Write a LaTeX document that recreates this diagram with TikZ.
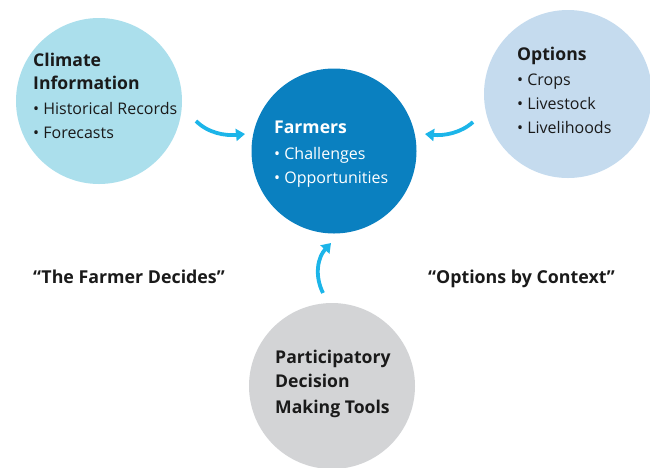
\documentclass[tikz,border=0pt]{standalone}
\usepackage{fontspec}
\setmainfont{Open Sans}
\usetikzlibrary{arrows.meta}
\definecolor{climate}{HTML}{ABDFEC}
\definecolor{farmers}{HTML}{0A80C0}
\definecolor{options}{HTML}{C5DBEE}
\definecolor{tools}{HTML}{D3D4D6}
\definecolor{flow}{HTML}{1CB5E9}
\definecolor{ink}{HTML}{1A1A1A}
\tikzset{
  bubble/.style={circle, draw=none, inner sep=0pt},
  title/.style={anchor=base west, inner sep=0pt, text=ink, font=\fontsize{17.6}{20}\selectfont\bfseries},
  item/.style={anchor=base west, inner sep=0pt, text=ink, font=\fontsize{16}{18}\selectfont},
  quote/.style={anchor=base west, inner sep=0pt, text=ink, font=\fontsize{17.8}{20}\selectfont\bfseries},
  flowarrow/.style={draw=flow, line width=3.8pt, -{Triangle[length=9pt,width=12pt]}},
}
\begin{document}
\begin{tikzpicture}[x=1pt,y=-1pt]
\useasboundingbox (0,0) rectangle (650,467);
% circles
\node[bubble, fill=climate, minimum size=166pt] (climate) at (99,101) {};
\node[bubble, fill=farmers, minimum size=165pt] (farmers) at (334,151) {};
\node[bubble, fill=options, minimum size=168pt] (options) at (568,94) {};
\node[bubble, fill=tools, minimum size=166pt] (tools) at (332,386) {};

% climate information
\node[title] (c1) at (33,66.5) {Climate};
\node[title] (c2) at (33,89) {Information};
\node[item] (c3) at (33,114) {• Historical Records};
\node[item] (c4) at (33,138) {• Forecasts};

% farmers
\node[title, text=white] (f1) at (274,133) {Farmers};
\node[item, text=white] (f2) at (274,159) {• Challenges};
\node[item, text=white] (f3) at (274,183) {• Opportunities};

% options
\node[title] (o1) at (517,60) {Options};
\node[item] (o2) at (517,85) {• Crops};
\node[item] (o3) at (517,109) {• Livestock};
\node[item] (o4) at (517,133) {• Livelihoods};

% decision tools
\node[title] (t1) at (275,363) {Participatory};
\node[title] (t2) at (275,387) {Decision};
\node[title] (t3) at (275,413) {Making Tools};

% slogans
\node[quote] (q1) at (33,283) {“The Farmer Decides”};
\node[quote] (q2) at (428,283) {“Options by Context”};

% arrows into the farmers circle
\coordinate (la) at (196,121);
\coordinate (ra) at (473,122);
\coordinate (ba) at (323,293);
\draw[flowarrow] (la) .. controls (208,133) and (225,136) .. (245,134);
\draw[flowarrow] (ra) .. controls (461,133) and (444,136) .. (425,134);
\draw[flowarrow] (ba) .. controls (314,275) and (318,257) .. (331,243);
\end{tikzpicture}
\end{document}
